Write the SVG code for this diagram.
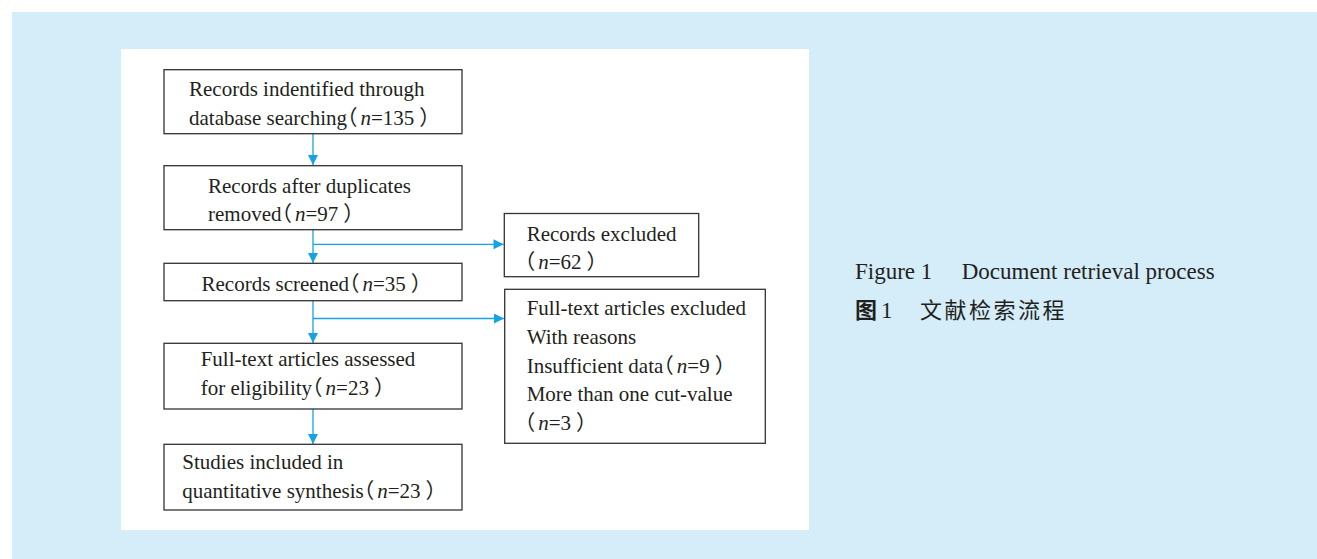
<svg xmlns="http://www.w3.org/2000/svg" width="1317" height="559" viewBox="0 0 1317 559">
<style>
.box{fill:#ffffff;stroke:#333333;stroke-width:1.3}
.t{font-family:"Liberation Serif","Noto Sans CJK SC",serif;font-size:21px;fill:#231f20;font-feature-settings:"halt"}
.cap{font-family:"Liberation Serif","Noto Sans CJK SC",serif;font-size:23px;fill:#231f20}
.cjk{font-family:"Noto Sans CJK SC",sans-serif;font-size:22px;fill:#231f20}
.conn{stroke:#17a2e6;stroke-width:1.3;fill:none}
.it{font-style:italic}
</style>
<defs>
<marker id="ah" markerUnits="userSpaceOnUse" markerWidth="11" markerHeight="10" refX="10" refY="5" orient="auto" viewBox="0 0 10 10">
<path d="M0,0 L10,5 L0,10 z" fill="#17a2e6"/>
</marker>
</defs>
<rect x="12" y="12" width="1305" height="547" fill="#d5ecf9"/>
<rect x="121" y="49" width="688" height="481" fill="#ffffff"/>

<g id="connectors">
<line class="conn" x1="313" y1="133.7" x2="313" y2="165" marker-end="url(#ah)"/>
<line class="conn" x1="313" y1="229.7" x2="313" y2="263" marker-end="url(#ah)"/>
<line class="conn" x1="313" y1="244.3" x2="503.5" y2="244.3" marker-end="url(#ah)"/>
<line class="conn" x1="313" y1="300.7" x2="313" y2="343" marker-end="url(#ah)"/>
<line class="conn" x1="313" y1="318.5" x2="504" y2="318.5" marker-end="url(#ah)"/>
<line class="conn" x1="313" y1="409" x2="313" y2="444" marker-end="url(#ah)"/>
</g>

<g id="n1">
<rect class="box" x="164" y="69.7" width="298" height="64"/>
<text class="t" x="189" y="96">Records indentified through</text>
<text class="t" x="189" y="124.5">database searching（<tspan class="it" dx="3">n</tspan>=135<tspan dx="5">）</tspan></text>
</g>
<g id="n2">
<rect class="box" x="164" y="165.7" width="298" height="64"/>
<text class="t" x="208" y="192.5">Records after duplicates</text>
<text class="t" x="208" y="221">removed（<tspan class="it" dx="3">n</tspan>=97<tspan dx="5">）</tspan></text>
</g>
<g id="n3">
<rect class="box" x="164" y="263.3" width="298" height="37.4"/>
<text class="t" x="201.5" y="290.5">Records screened（<tspan class="it" dx="3">n</tspan>=35<tspan dx="5">）</tspan></text>
</g>
<g id="n4">
<rect class="box" x="164" y="343.3" width="298" height="65.7"/>
<text class="t" x="200.7" y="365.7">Full-text articles assessed</text>
<text class="t" x="200.7" y="394.5">for eligibility（<tspan class="it" dx="3">n</tspan>=23<tspan dx="5">）</tspan></text>
</g>
<g id="n5">
<rect class="box" x="164" y="444.3" width="298" height="65.7"/>
<text class="t" x="182.3" y="469">Studies included in</text>
<text class="t" x="182.3" y="498.3">quantitative synthesis（<tspan class="it" dx="3">n</tspan>=23<tspan dx="5">）</tspan></text>
</g>
<g id="n6">
<rect class="box" x="504.3" y="213.5" width="194.4" height="63.2"/>
<text class="t" x="526.7" y="240.5">Records excluded</text>
<text class="t" x="524.7" y="269">（<tspan class="it" dx="3">n</tspan>=62<tspan dx="5">）</tspan></text>
</g>
<g id="n7">
<rect class="box" x="504.7" y="289.3" width="260.6" height="154"/>
<text class="t" x="526.7" y="315">Full-text articles excluded</text>
<text class="t" x="526.7" y="344">With reasons</text>
<text class="t" x="526.7" y="373">Insufficient data（<tspan class="it" dx="3">n</tspan>=9<tspan dx="5">）</tspan></text>
<text class="t" x="526.7" y="401">More than one cut-value</text>
<text class="t" x="524.7" y="429.5">（<tspan class="it" dx="3">n</tspan>=3<tspan dx="5">）</tspan></text>
</g>

<g id="caption">
<text class="cap" x="855" y="279">Figure 1</text>
<text class="cap" x="961.7" y="279">Document retrieval process</text>
<text class="cjk" x="855" y="318" font-weight="bold">图</text>
<text class="cap" x="881" y="318">1</text>
<text class="cjk" x="920" y="318" letter-spacing="2.5">文献检索流程</text>
</g>
</svg>
